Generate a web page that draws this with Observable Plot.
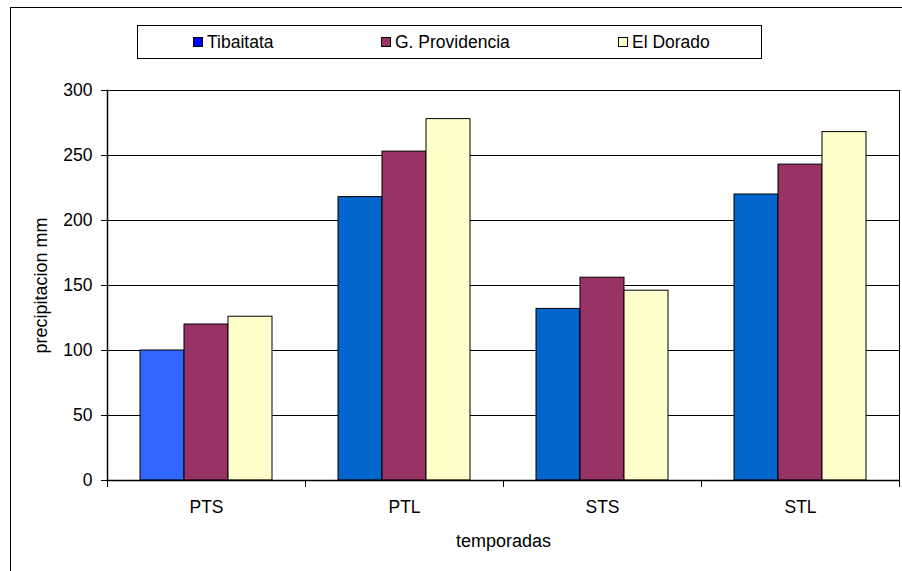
<!DOCTYPE html>
<html>
<head>
<meta charset="utf-8">
<script src="https://cdn.jsdelivr.net/npm/d3@7"></script>
<script src="https://cdn.jsdelivr.net/npm/@observablehq/plot@0.6"></script>
<style>
  html, body { margin: 0; padding: 0; background: #fff; overflow: hidden; }
  #wrap { position: relative; width: 902px; height: 571px; overflow: hidden; font-family: "Liberation Sans", Arial, sans-serif; }
  #outer { position: absolute; left: 10px; top: 7px; width: 1000px; height: 700px; border: 1.5px solid #000; box-sizing: border-box; }
  #chart { position: absolute; left: 0; top: 0; }
  #legend { position: absolute; left: 137px; top: 25px; width: 625px; height: 34px; border: 1px solid #000; box-sizing: border-box; background: #fff; font-size: 17.5px; color: #000; }
  .item { position: absolute; top: 0; height: 32px; display: flex; align-items: center; white-space: nowrap; }
  .sw { width: 8px; height: 8px; border: 1px solid #000; margin-right: 4px; }
</style>
</head>
<body>
<div id="wrap">
  <div id="outer"></div>
  <div id="chart"></div>
  <div id="legend"></div>
</div>
<script>
// ---- data ----
const categories = ["PTS", "PTL", "STS", "STL"];
const series = ["Tibaitata", "G. Providencia", "El Dorado"];
const tibaitata = [100, 218, 132, 220];
const providencia = [120, 253, 156, 243];
const dorado = [126, 278, 146, 268];
const yTicks = [0, 50, 100, 150, 200, 250, 300];
const xLabel = "temporadas";
const yLabel = "precipitacion mm";

// ---- styles ----
const barColors = {"Tibaitata": "#0066CC", "G. Providencia": "#993366", "El Dorado": "#FFFFCC"};
const legendColors = {"Tibaitata": "#0000FF", "G. Providencia": "#993366", "El Dorado": "#FFFFCC"};
const firstBarColor = "#3366FF";

const valuesBySeries = [tibaitata, providencia, dorado];
const data = [];
categories.forEach((c, i) => {
  series.forEach((s, j) => data.push({cat: c, series: s, value: valuesBySeries[j][i]}));
});

const W = 902, H = 571, mT = 90, mB = 91, mL = 106, mR = 2;
const innerH = H - mT - mB;

const chart = Plot.plot({
  width: W,
  height: H,
  marginTop: mT,
  marginBottom: mB,
  marginLeft: mL,
  marginRight: mR,
  style: {fontFamily: "'Liberation Sans', Arial, sans-serif", fontSize: "17.5px", color: "#000", background: "transparent"},
  fx: {domain: categories, padding: 0, label: xLabel},
  x: {domain: series, paddingInner: 0, paddingOuter: 0.75, axis: null},
  y: {domain: [0, 300], label: yLabel},
  marks: [
    Plot.gridY(yTicks, {stroke: "#000", strokeOpacity: 1, strokeWidth: 1}),
    Plot.barY(data, {
      fx: "cat", x: "series", y: "value",
      fill: d => (d.cat === categories[0] && d.series === series[0]) ? firstBarColor : barColors[d.series],
      stroke: "#000", strokeWidth: 1
    }),
    // plot-area left and right edges
    Plot.frame({anchor: "left", facetAnchor: "left", stroke: "#000", strokeWidth: 1.5}),
    Plot.frame({anchor: "right", facetAnchor: "right", stroke: "#000", strokeWidth: 1}),
    // category boundary tick marks below the axis
    Plot.frame({anchor: "left", insetTop: innerH, insetBottom: -6, stroke: "#000", strokeWidth: 1}),
    Plot.frame({anchor: "right", insetTop: innerH, insetBottom: -6, stroke: "#000", strokeWidth: 1}),
    Plot.ruleY([0], {stroke: "#000", strokeWidth: 1.5}),
    Plot.axisY({ticks: yTicks, tickSize: 6, tickPadding: 9, label: null, fontSize: 17.5}),
    Plot.axisY({ticks: [], label: yLabel, labelAnchor: "center", labelArrow: "none", labelOffset: 73, fontSize: 18}),
    Plot.axisFx({anchor: "bottom", tickSize: 0, tickPadding: 20, label: null, fontSize: 17.5}),
    Plot.axisFx({anchor: "bottom", ticks: [], label: xLabel, labelAnchor: "center", labelArrow: "none", labelOffset: 66, fontSize: 18})
  ]
});
document.getElementById("chart").appendChild(chart);

// ---- legend ----
const legendLefts = [55, 243, 480];
const legend = d3.select("#legend");
series.forEach((s, i) => {
  const it = legend.append("div").attr("class", "item").style("left", legendLefts[i] + "px");
  it.append("div").attr("class", "sw").style("background", legendColors[s]);
  it.append("span").text(s);
});
</script>
</body>
</html>
